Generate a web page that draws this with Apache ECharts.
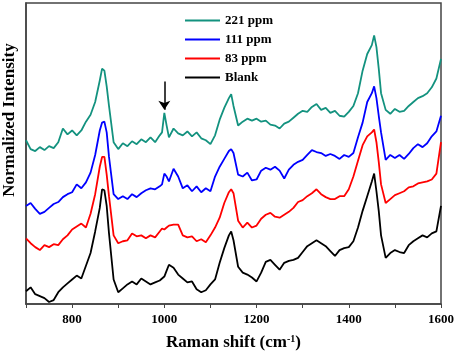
<!DOCTYPE html>
<html>
<head>
<meta charset="utf-8">
<script src="https://cdn.jsdelivr.net/npm/echarts@6/dist/echarts.min.js"></script>
<style>
html, body { margin: 0; padding: 0; background: #fff; }
#chart { width: 457px; height: 356px; }
</style>
</head>
<body>
<div id="chart"></div>
<script>
// raman shift (cm-1), shared by all spectra
var shift = [700,710,720,730,740,750,760,770,780,790,800,810,820,830,840,850,860,865,870,875,
    880,890,900,910,920,930,940,950,960,970,980,990,995,1000,1005,1010,1020,1030,1040,1050,
    1060,1070,1080,1090,1100,1110,1120,1130,1140,1145,1150,1160,1170,1180,1190,1200,1210,1220,1230,1240,
    1250,1260,1270,1280,1290,1300,1310,1320,1330,1340,1350,1360,1370,1380,1390,1400,1410,1420,1430,1440,
    1450,1455,1460,1465,1470,1480,1490,1500,1510,1520,1530,1540,1550,1560,1570,1580,1590,1600];

// normalized intensity (offset stacked)
var ppm221 = [167,158,156,160,157,161,159,165,179,173,177,172,177,186,193,206,228,240,238,222,
    202,165,158,164,161,166,163,168,165,170,165,172,175,195,182,170,179,174,172,176,
    171,175,169,167,163,172,188,200,210,214,202,182,186,189,187,189,186,187,183,182,
    179,184,186,190,194,197,196,201,204,198,200,195,197,192,191,196,202,215,238,255,
    264,274,262,240,215,198,194,199,196,197,202,206,210,212,215,221,230,250];
var ppm111 = [100,103,97,92,94,98,102,104,109,112,114,122,118,124,134,152,177,185,186,175,
    150,112,107,110,107,112,109,113,116,118,117,120,122,133,130,125,138,130,118,121,
    115,120,114,118,115,130,140,148,156,158,154,132,130,134,126,127,136,139,137,140,
    136,128,137,142,145,147,152,157,155,154,151,153,151,148,152,150,154,170,185,206,
    215,222,210,192,175,147,152,149,152,148,153,159,163,160,164,171,176,192];
var ppm83 = [67,62,58,55,60,58,61,60,66,70,76,79,82,78,92,112,140,150,150,132,
    110,70,62,64,65,72,69,70,67,70,68,74,77,76,78,80,81,81,70,68,
    69,64,66,63,70,78,88,103,114,117,113,85,78,83,78,80,87,91,93,89,
    88,91,94,98,104,106,110,113,117,112,109,107,107,110,110,117,130,146,162,171,
    175,178,165,145,122,103,107,111,113,115,119,120,123,124,125,127,133,165];
var blank = [13,17,10,8,6,2,4,12,17,21,25,29,26,39,52,74,98,117,116,100,
    72,25,12,16,20,23,20,26,23,20,22,24,26,28,34,40,37,30,26,22,
    23,15,12,14,20,25,42,57,70,74,65,38,32,30,27,23,32,43,45,40,
    35,42,44,45,47,53,59,62,65,62,59,54,49,55,57,58,64,78,95,110,
    125,133,115,95,70,47,52,55,53,52,60,64,67,70,68,72,74,100];

var names = ['221 ppm', '111 ppm', '83 ppm', 'Blank'];
var colors = ['#13927f', '#0000ff', '#ff0000', '#000000'];
var xLabels = [800, 1000, 1200, 1400, 1600];
// arrow over the 1000 cm-1 band
var arrowX = 1000, arrowFrom = 227, arrowTo = 198;

var font = 'Liberation Serif, Times New Roman, serif';

function pairs(ys) {
    var res = [];
    for (var i = 0; i < shift.length; i++) {
        res.push([shift[i], ys[i]]);
    }
    return res;
}

var myChart = echarts.init(document.getElementById('chart'));
var allData = [ppm221, ppm111, ppm83, blank];
var series = [];
for (var i = 0; i < names.length; i++) {
    var s = {
        name: names[i],
        type: 'line',
        data: pairs(allData[i]),
        showSymbol: false,
        lineStyle: { color: colors[i], width: 1.8 },
        itemStyle: { color: colors[i] }
    };
    if (i == 0) {
        s.markLine = {
            silent: true,
            symbol: ['none', 'arrow'],
            symbolSize: 9,
            label: { show: false },
            lineStyle: { color: '#000', width: 1.5, type: 'solid' },
            data: [[{ coord: [arrowX, arrowFrom] }, { coord: [arrowX, arrowTo] }]]
        };
    }
    series.push(s);
}

var option = {
    animation: false,
    grid: {
        left: 26, right: 16, top: 3, bottom: 46,
        show: true, borderColor: '#444', borderWidth: 1.5
    },
    legend: {
        orient: 'vertical',
        left: 180,
        top: 9,
        itemWidth: 35,
        itemHeight: 2,
        itemGap: 6,
        icon: 'rect',
        data: names,
        textStyle: { fontFamily: font, fontWeight: 'bold', fontSize: 13, color: '#000' }
    },
    xAxis: {
        type: 'value',
        min: 700,
        max: 1600,
        interval: 100,
        name: 'Raman shift (cm{sup|-1})',
        nameLocation: 'middle',
        nameGap: 30,
        nameTextStyle: {
            fontFamily: font, fontWeight: 'bold', fontSize: 17, color: '#000',
            rich: {
                sup: { fontFamily: font, fontWeight: 'bold', fontSize: 10, verticalAlign: 'top', color: '#000' }
            }
        },
        axisLine: { lineStyle: { color: '#444', width: 1.5 } },
        axisTick: { show: true, length: 4, lineStyle: { color: '#444' } },
        splitLine: { show: false },
        axisLabel: {
            margin: 9,
            fontFamily: font, fontWeight: 'bold', fontSize: 13, color: '#000',
            formatter: function(value) {
                return xLabels.indexOf(value) >= 0 ? String(value) : '';
            }
        }
    },
    yAxis: {
        type: 'value',
        min: 0,
        max: 307,
        axisLine: { show: true, lineStyle: { color: '#444', width: 1.5 } },
        axisTick: { show: false },
        axisLabel: { show: false },
        splitLine: { show: false }
    },
    graphic: [{
        type: 'text',
        x: 10,
        y: 120,
        rotation: Math.PI / 2,
        style: {
            text: 'Normalized Intensity',
            font: 'bold 17px ' + font,
            fill: '#000',
            textAlign: 'center',
            textVerticalAlign: 'middle'
        }
    }],
    series: series
};
myChart.setOption(option);
window.onresize = myChart.resize;
</script>
</body>
</html>
